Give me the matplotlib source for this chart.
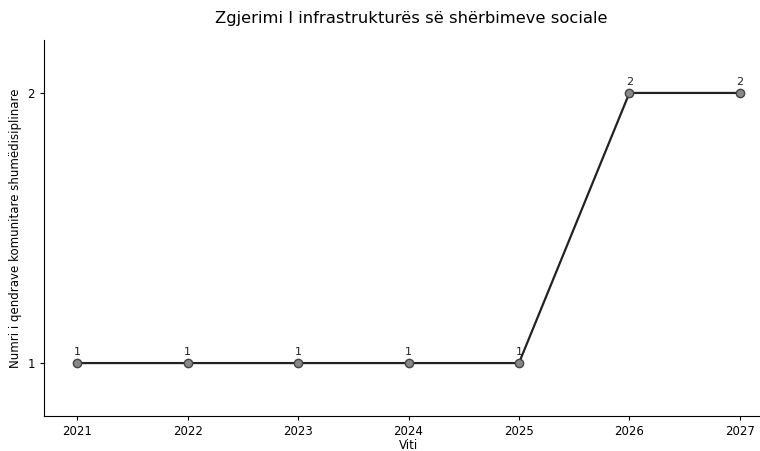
import matplotlib
matplotlib.use("Agg")
import matplotlib.pyplot as plt

years = [2021, 2022, 2023, 2024, 2025, 2026, 2027]
values = [1, 1, 1, 1, 1, 2, 2]
title = "Zgjerimi I infrastrukturës së shërbimeve sociale"
xlabel = "Viti"
ylabel = "Numri i qendrave komunitare shumëdisiplinare"

fig = plt.figure(figsize=(7.6, 4.51), dpi=100)
ax = fig.add_axes([44/760, 1 - 416/451, (773-44)/760, (416-40)/451])
ax.plot(years, values, color="#222222", linewidth=1.6, marker="o", markersize=6,
        markerfacecolor="#888888", markeredgecolor="#444444", markeredgewidth=1)
for x, y in zip(years, values):
    ax.annotate(str(y), (x, y), textcoords="offset points", xytext=(0, 6),
                ha="center", fontsize=8, color="#222222")
ax.set_xlim(2020.7, 2027.3)
ax.set_ylim(0.804, 2.196)
ax.set_xticks(years)
ax.set_xticklabels([str(y) for y in years])
ax.set_yticks([1, 2])
ax.tick_params(labelsize=8.5, length=3)
ax.spines["top"].set_visible(False)
ax.spines["right"].set_visible(False)
ax.set_xlabel(xlabel, fontsize=8.5, labelpad=0.5)
ax.set_ylabel(ylabel, fontsize=8.5)
fig.text(411/760, 1 - 18/451, title, ha="center", va="center", fontsize=11.8)
fig.savefig("out.png", dpi=100)
